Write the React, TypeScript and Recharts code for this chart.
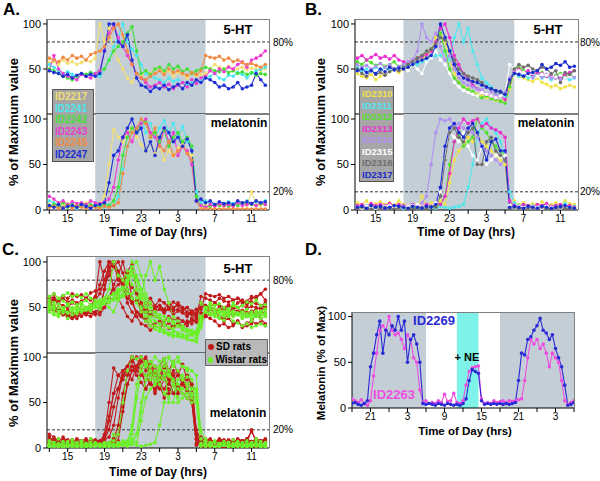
import React from 'react';
import { LineChart, Line, XAxis, YAxis, ReferenceArea, ReferenceLine } from 'recharts';

// samples every 30 min; A-C start at 13:00, D at 18:00 (hours counted from midnight of day 1)
const DAY_START = 13;
const D_START = 18;
const STEP = 0.5;

const DAY_TICKS = [13, 15, 17, 19, 21, 23, 25, 27, 29, 31, 33, 35];
const DAY_LABELS = [15, 19, 23, 27, 31, 35];
const D_TICKS = [18, 21, 24, 27, 30, 33, 36, 39, 42, 45, 48, 51, 54];
const D_LABELS = [21, 27, 33, 39, 45, 51];
const Y_TICKS = [0, 50, 100];
const Y_TICKS_TOP = [50, 100];

// ---- panel A : 5-HT ----
const ht2217 = [57,58,55,60,56,58,55,57,60,58, 62,100,80,95,70,60,50,40,35,45, 42,48,45,50,52,45,48,42,46,44, 40,45,42,44,45,50,55,52,50,53, 48,50,52,49,51,50,48,50];
const ht2241 = [55,52,48,45,47,44,42,45,43,46, 44,42,50,60,75,85,100,80,72,65, 55,45,42,40,38,35,40,36,38,35, 33,36,34,38,40,42,45,40,38,43, 42,46,44,40,45,48,50,52];
const ht2242 = [50,48,45,42,40,38,42,45,44,46, 45,48,50,60,70,75,80,90,97,70, 45,48,44,50,52,48,55,50,53,47, 50,45,48,50,52,50,48,47,50,46, 48,45,47,44,46,43,45,44];
const ht2243 = [48,65,50,45,42,40,38,44,42,40, 45,48,70,90,100,85,75,65,55,45, 40,35,30,32,35,30,33,28,32,35, 30,38,34,40,42,48,45,50,47,52, 50,55,58,52,60,62,65,70];
const ht2245 = [62,60,58,63,60,65,62,64,60,66, 68,70,75,85,95,100,88,70,55,45, 40,38,42,45,48,44,50,46,48,45, 43,46,44,48,65,63,62,64,60,62, 58,60,57,55,56,54,52,55];
const ht2247 = [48,46,45,42,44,40,43,45,42,44, 42,45,70,100,100,80,75,88,60,40, 32,30,25,30,28,32,27,30,33,28, 35,32,38,35,40,38,35,30,32,28, 30,35,28,30,32,45,38,32];

// ---- panel A : melatonin ----
const mel2217 = [6,4,8,5,7,4,6,5,8,6, 5,7,15,50,88,80,75,85,90,80, 72,65,75,62,70,55,65,60,68,72, 65,60,15,3,5,4,6,5,4,7, 5,6,8,5,20,6,5,7];
const mel2241 = [10,8,5,3,6,4,2,5,3,6, 4,5,3,6,5,15,45,70,85,90, 100,85,95,80,90,98,85,95,80,92, 75,70,20,8,10,7,6,8,5,9, 7,8,6,10,7,9,8,10];
const mel2242 = [4,6,5,8,3,6,4,7,5,6, 5,4,6,5,10,25,60,80,90,85, 95,97,80,85,75,88,70,80,85,75, 80,70,15,5,3,4,6,5,7,4, 6,5,7,8,6,5,7,6];
const mel2243 = [15,12,8,10,6,9,7,8,6,10, 8,7,9,12,25,55,80,85,75,90, 95,100,85,80,70,90,75,85,60,70, 65,50,10,5,3,6,4,7,5,6, 4,8,5,6,7,5,8,6];
const mel2245 = [3,4,2,3,5,2,4,3,2,4, 3,2,4,3,5,8,40,70,85,90, 100,95,80,90,70,65,75,60,65,70, 62,55,10,1,1,1,1,1,1,1, 1,1,1,1,1,1,1,1];
const mel2247 = [5,3,6,2,4,5,3,6,4,2, 5,6,8,30,60,65,80,90,100,85, 90,65,75,60,80,90,85,75,80,70, 78,65,10,12,8,10,6,9,7,8, 6,10,8,9,7,10,8,9];

// ---- panel B : 5-HT ----
const ht2310 = [45,42,40,44,38,42,45,47,48,46, 50,52,55,58,60,65,70,85,90,80, 60,45,35,30,28,25,22,20,18,17, 15,14,16,28,45,42,40,38,36,40, 35,33,30,32,28,30,32,30];
const ht2311 = [52,48,50,47,52,49,51,48,50,52, 55,53,56,55,58,60,62,65,65,70, 60,85,100,80,95,70,55,40,35,30, 25,22,20,35,45,42,44,40,42,44, 40,42,38,40,42,40,38,40];
const ht2312 = [58,55,60,57,54,56,53,55,58,52, 55,57,60,62,65,68,72,80,90,70, 50,40,35,30,27,25,20,18,20,17, 16,14,12,30,50,52,48,46,45,44, 46,42,44,43,45,42,44,43];
const ht2313 = [62,65,60,63,66,62,64,61,65,60, 58,56,60,62,64,66,70,80,95,100, 85,65,55,45,38,32,28,25,22,20, 18,20,16,35,48,50,46,48,44,46, 45,42,44,40,42,44,46,48];
const ht2314 = [55,52,54,50,53,56,52,55,50,53, 55,58,60,70,100,85,80,90,75,60, 65,50,40,35,32,30,28,27,30,25, 22,20,24,40,46,44,42,45,40,43, 41,44,40,42,38,40,42,41];
const ht2315 = [48,50,45,47,44,46,48,45,47,50, 52,48,55,50,45,58,62,70,60,55, 45,35,30,26,24,22,20,24,22,20, 18,20,22,55,50,48,46,44,45,42, 44,43,45,41,43,40,42,44];
const ht2316 = [50,45,42,48,44,46,43,47,50,48, 52,55,58,62,65,70,72,78,85,82, 70,60,50,45,42,40,38,35,30,28, 25,24,22,35,50,55,52,54,50,48, 52,50,45,48,35,46,44,48];
const ht2317 = [48,50,46,48,45,50,47,52,49,51, 50,52,55,58,60,62,65,75,100,85, 70,55,45,40,38,36,35,32,30,28, 26,25,22,38,45,44,42,45,46,48, 55,50,52,56,54,58,52,53];

// ---- panel B : melatonin ----
const mel2310 = [8,6,10,5,7,9,6,8,5,10, 6,4,5,3,15,4,8,5,10,6, 30,55,65,70,80,75,85,75,70,65, 60,55,50,5,10,6,8,5,7,6, 9,5,6,8,5,10,7,6];
const mel2311 = [4,3,5,2,4,3,5,2,3,4, 2,3,4,2,3,5,3,2,4,3, 2,3,4,6,25,50,80,95,100,90, 85,75,60,20,8,5,6,4,5,3, 4,6,3,5,4,7,3,4];
const mel2312 = [3,2,4,3,2,4,3,2,3,4, 3,2,3,4,2,3,5,4,6,15, 50,75,85,70,75,80,100,90,85,75, 70,65,60,3,2,3,2,4,3,2, 3,2,4,3,2,3,2,3];
const mel2313 = [5,6,4,7,5,6,5,7,4,6, 5,4,6,5,4,6,5,8,6,15, 40,75,90,100,95,98,100,92,95,90, 88,85,80,10,5,4,6,5,4,6, 5,7,4,5,6,4,5,3];
const mel2314 = [2,3,1,2,3,2,1,2,3,2, 4,3,5,4,8,15,50,85,100,98, 100,92,95,90,88,85,80,70,65,60, 55,50,55,3,2,3,1,2,3,2, 1,3,2,1,2,3,2,1];
const mel2315 = [3,2,4,3,2,3,4,5,3,2, 3,4,5,6,4,3,5,8,20,55, 85,80,75,85,70,60,55,70,50,55, 60,58,60,5,3,4,2,3,4,3, 2,4,3,2,3,4,3,2];
const mel2316 = [2,3,2,1,3,2,3,2,1,2, 3,2,1,2,3,2,4,3,15,55, 85,90,80,75,85,90,50,50,75,80, 65,60,55,2,3,2,1,2,3,2, 3,2,1,2,3,2,1,2];
const mel2317 = [3,4,2,5,3,4,2,3,5,4, 3,2,4,3,2,4,3,6,25,70, 90,95,85,80,90,95,85,70,55,75, 78,65,65,3,4,3,2,4,3,2, 4,3,2,3,4,5,3,2];

// ---- panel C : two more SD rats shown only in the pooled plot ----
const htSdX1 = [55,50,48,45,40,38,42,40,45,48, 60,75,90,100,95,85,70,60,55,58, 50,55,60,52,58,55,50,56,52,48, 50,45,40,62,60,58,55,60,57,56, 58,60,55,57,62,60,65,58];
const htSdX2 = [60,58,55,52,50,55,52,48,50,53, 58,65,80,95,100,90,75,55,45,40, 45,50,55,48,52,45,50,48,55,50, 45,42,38,55,52,48,45,40,35,38, 32,35,30,33,35,32,34,30];
const melSdX1 = [12,8,10,6,9,7,10,8,6,9, 7,8,12,35,60,80,85,90,100,85, 80,75,90,70,65,75,85,80,60,75, 70,65,5,8,6,9,7,10,8,6, 9,7,8,10,18,9,7,8];
const melSdX2 = [8,10,6,12,7,9,5,8,10,6, 9,7,10,20,45,65,85,90,95,100, 85,80,70,65,75,80,60,70,65,60, 55,50,3,6,8,5,7,4,9,6, 5,8,6,7,5,8,6,9];

// ---- panel D : melatonin over 36 h, NE given 11:00-14:30 ----
const d2269 = [5,6,4,3,5,8,45,60,80,95, 60,85,80,90,85,100,85,95,50,75, 80,70,50,5,4,5,4,3,5,4, 3,5,4,3,4,3,5,10,30,42, 40,38,8,4,5,4,5,4,5,4, 5,4,5,6,30,60,58,75,78,85, 90,98,85,82,75,80,65,55,45,25, 3,4,6];
const d2263 = [10,8,6,9,5,3,8,35,60,85, 90,85,100,85,80,82,75,65,80,75, 55,50,20,6,8,5,6,5,8,6, 15,7,8,16,6,5,8,25,40,44, 45,46,10,5,6,5,8,6,7,8, 6,8,7,8,9,10,30,55,75,70, 75,65,70,60,45,60,55,50,30,8, 4,6,8];

type S = { id: string; color: string; values: number[] };

const A_HT: S[] = [
  { id: 'ID2217', color: '#f3df74', values: ht2217 },
  { id: 'ID2241', color: '#4ce6ee', values: ht2241 },
  { id: 'ID2242', color: '#44e03a', values: ht2242 },
  { id: 'ID2243', color: '#ea3fd0', values: ht2243 },
  { id: 'ID2245', color: '#f08c45', values: ht2245 },
  { id: 'ID2247', color: '#1f2fd6', values: ht2247 },
];
const A_MEL: S[] = [
  { id: 'ID2217', color: '#f3df74', values: mel2217 },
  { id: 'ID2241', color: '#4ce6ee', values: mel2241 },
  { id: 'ID2242', color: '#44e03a', values: mel2242 },
  { id: 'ID2243', color: '#ea3fd0', values: mel2243 },
  { id: 'ID2245', color: '#f08c45', values: mel2245 },
  { id: 'ID2247', color: '#1f2fd6', values: mel2247 },
];
const B_HT: S[] = [
  { id: 'ID2310', color: '#f2e24a', values: ht2310 },
  { id: 'ID2311', color: '#4ee8f0', values: ht2311 },
  { id: 'ID2312', color: '#52e02c', values: ht2312 },
  { id: 'ID2313', color: '#ec2fcf', values: ht2313 },
  { id: 'ID2314', color: '#b391f2', values: ht2314 },
  { id: 'ID2315', color: '#ffffff', values: ht2315 },
  { id: 'ID2316', color: '#6e6e6e', values: ht2316 },
  { id: 'ID2317', color: '#1a2ccf', values: ht2317 },
];
const B_MEL: S[] = [
  { id: 'ID2310', color: '#f2e24a', values: mel2310 },
  { id: 'ID2311', color: '#4ee8f0', values: mel2311 },
  { id: 'ID2312', color: '#52e02c', values: mel2312 },
  { id: 'ID2313', color: '#ec2fcf', values: mel2313 },
  { id: 'ID2314', color: '#b391f2', values: mel2314 },
  { id: 'ID2315', color: '#ffffff', values: mel2315 },
  { id: 'ID2316', color: '#6e6e6e', values: mel2316 },
  { id: 'ID2317', color: '#1a2ccf', values: mel2317 },
];

const SD = '#c01a1a';
const WISTAR = '#6cf02a';
const C_HT: S[] = [
  ...[ht2217, ht2241, ht2242, ht2243, ht2245, ht2247, htSdX1, htSdX2].map((v, i) => ({ id: 'sd' + i, color: SD, values: v })),
  ...B_HT.map((s) => ({ ...s, color: WISTAR })),
];
const C_MEL: S[] = [
  ...[mel2217, mel2241, mel2242, mel2243, mel2245, mel2247, melSdX1, melSdX2].map((v, i) => ({ id: 'sd' + i, color: SD, values: v })),
  ...B_MEL.map((s) => ({ ...s, color: WISTAR })),
];
const D_MEL: S[] = [
  { id: 'ID2263', color: '#ee4ee0', values: d2263 },
  { id: 'ID2269', color: '#2a2ad6', values: d2269 },
];

const SHADE = '#c3ced6';
const NE = '#7ef2e8';
const FONT = "'Liberation Sans', Arial, Helvetica, sans-serif";

const pts = (values: number[], start: number) => values.map((v, i) => ({ t: start + STEP * i, v }));

type Shade = { x1: number; x2: number; fill: string };

function Strip(props: {
  x: number; y: number; w: number; h: number;
  series: S[]; start: number; domain: [number, number]; yMax: number; yTicks: number[];
  shades: Shade[]; refY?: number; refLabel?: string; labelGap?: number; axis?: boolean;
  ticks: number[]; labels: number[];
}) {
  const { x, y, w, h, series, start, domain, yMax, yTicks, shades, refY, refLabel, axis, ticks, labels } = props;
  const gap = props.labelGap ?? 4;
  const L = 40, T = 6, R = 32;
  const B = axis ? 22 : 1;
  return (
    <div style={{ position: 'absolute', left: x - L, top: y - T }}>
      <LineChart width={w + L + R} height={h + T + B} margin={{ top: T, right: R, left: L - 30, bottom: 0 }}>
        {shades.map((s, i) => (
          <ReferenceArea key={'sh' + i} x1={s.x1} x2={s.x2} fill={s.fill} fillOpacity={1} stroke="none" ifOverflow="hidden" />
        ))}
        <XAxis
          type="number"
          dataKey="t"
          domain={domain}
          allowDataOverflow
          ticks={ticks}
          interval={0}
          height={B}
          tick={axis ? { fontSize: 10, fill: '#000' } : false}
          tickLine={axis ? { stroke: '#000' } : false}
          tickSize={4}
          tickMargin={1}
          tickFormatter={(v: number) => (labels.includes(v) ? String(v % 24) : '')}
          axisLine={{ stroke: '#000' }}
        />
        <YAxis
          type="number"
          domain={[0, yMax]}
          allowDataOverflow
          ticks={yTicks}
          interval={0}
          width={30}
          tickSize={4}
          tick={{ fontSize: 11, fill: '#000' }}
          tickLine={{ stroke: '#000' }}
          axisLine={{ stroke: '#000' }}
        />
        {refY !== undefined && (
          <ReferenceLine
            y={refY}
            stroke="#333"
            strokeDasharray="3 2"
            label={{ value: refLabel, position: 'right', offset: gap, fill: '#000', fontSize: 10 }}
          />
        )}
        {series.map((s, i) => (
          <Line
            key={s.id + i}
            data={pts(s.values, start)}
            dataKey="v"
            stroke={s.color}
            strokeWidth={1.1}
            dot={{ r: 1.8, fill: s.color, stroke: 'none' }}
            activeDot={false}
            isAnimationActive={false}
          />
        ))}
      </LineChart>
    </div>
  );
}

const abs = (left: number, top: number, extra: React.CSSProperties = {}): React.CSSProperties => ({
  position: 'absolute', left, top, whiteSpace: 'nowrap', fontWeight: 'bold', ...extra,
});

function YTitle({ x, y, text, size }: { x: number; y: number; text: string; size: number }) {
  return <div style={abs(x, y, { fontSize: size, transform: 'translate(-50%,-50%) rotate(-90deg)' })}>{text}</div>;
}
function CText({ x, y, text, size, color = '#000' }: { x: number; y: number; text: string; size: number; color?: string }) {
  return <div style={abs(x, y, { fontSize: size, color, transform: 'translate(-50%,-50%)' })}>{text}</div>;
}
function Frame({ x, y, w, h }: { x: number; y: number; w: number; h: number }) {
  return <div style={{ position: 'absolute', left: x, top: y, width: w, height: h, borderTop: '1px solid #808080', borderRight: '1px solid #808080', boxSizing: 'border-box', pointerEvents: 'none' }} />;
}
function IdLegend({ x, y, w, items, size }: { x: number; y: number; w: number; items: S[]; size: number }) {
  return (
    <div style={{ position: 'absolute', left: x, top: y, width: w, background: '#a6a6a6', border: '1px solid #555', padding: '1px 0 1px 2px', fontSize: size, fontWeight: 'bold', lineHeight: '11.5px', overflow: 'hidden' }}>
      {items.map((s) => (
        <div key={s.id} style={{ color: s.color }}>{s.id}</div>
      ))}
    </div>
  );
}

function DayPanel({ ox, top, mid, bottom, w, ht, mel, htMax, melMax, labelGap }: {
  ox: number; top: number; mid: number; bottom: number; w: number;
  ht: S[]; mel: S[]; htMax: number; melMax: number; labelGap?: number;
}) {
  const night: Shade[] = [{ x1: 18, x2: 30, fill: SHADE }];
  return (
    <>
      <Strip x={ox} y={top} w={w} h={mid - top} series={ht} start={DAY_START} domain={[12.75, 36.9]}
        yMax={htMax} yTicks={Y_TICKS_TOP} shades={night} refY={80} refLabel="80%" labelGap={labelGap}
        ticks={DAY_TICKS} labels={DAY_LABELS} />
      <Strip x={ox} y={mid} w={w} h={bottom - mid} series={mel} start={DAY_START} domain={[12.75, 36.9]}
        yMax={melMax} yTicks={Y_TICKS} shades={night} refY={20} refLabel="20%" labelGap={labelGap} axis
        ticks={DAY_TICKS} labels={DAY_LABELS} />
      <Frame x={ox} y={top} w={w + 1} h={bottom - top} />
    </>
  );
}

export default function App() {
  return (
    <div style={{ position: 'absolute', left: 0, top: 0, width: 600, height: 481, background: '#fff', fontFamily: FONT, color: '#000', overflow: 'hidden' }}>
      {/* A */}
      <DayPanel ox={47} top={19} mid={114} bottom={210} w={222} ht={A_HT} mel={A_MEL} htMax={105.5} melMax={105.5} />
      <IdLegend x={52} y={89} w={38} items={A_HT} size={10} />
      <CText x={238} y={29} text="5-HT" size={13} />
      <CText x={239} y={123} text="melatonin" size={12} />
      <YTitle x={13} y={122} text="% of Maximum value" size={13} />
      <CText x={158} y={232} text="Time of Day (hrs)" size={12} />
      <div style={abs(3, 0, { fontSize: 17 })}>A.</div>

      {/* B */}
      <DayPanel ox={355} top={19} mid={114} bottom={210} w={223} ht={B_HT} mel={B_MEL} htMax={105.5} melMax={105.5} labelGap={2} />
      <IdLegend x={359} y={86} w={31} items={B_HT} size={9.5} />
      <CText x={548} y={29} text="5-HT" size={13} />
      <CText x={546} y={123} text="melatonin" size={12} />
      <YTitle x={320} y={122} text="% of Maximum value" size={13} />
      <CText x={466} y={232} text="Time of Day (hrs)" size={12} />
      <div style={abs(305, 0, { fontSize: 17 })}>B.</div>

      {/* C */}
      <DayPanel ox={47} top={256} mid={353} bottom={448} w={222} ht={C_HT} mel={C_MEL} htMax={106.5} melMax={104.5} />
      <div style={{ position: 'absolute', left: 205, top: 339, width: 63, height: 27, background: '#b9b9b9', border: '1px solid #666', fontSize: 10, fontWeight: 'bold', lineHeight: '12.5px', paddingTop: 1, boxSizing: 'border-box', whiteSpace: 'nowrap' }}>
        {[{ name: 'SD rats', color: SD }, { name: 'Wistar rats', color: WISTAR }].map((e) => (
          <div key={e.name} style={{ display: 'flex', alignItems: 'center' }}>
            <span style={{ display: 'inline-block', width: 6, height: 6, borderRadius: 3, background: e.color, margin: '0 2px 0 2px' }} />
            {e.name}
          </div>
        ))}
      </div>
      <CText x={238} y={268} text="5-HT" size={13} />
      <CText x={238} y={413} text="melatonin" size={12} />
      <YTitle x={13} y={363} text="% of Maximum value" size={13} />
      <CText x={158} y={472} text="Time of Day (hrs)" size={12} />
      <div style={abs(2, 240, { fontSize: 17 })}>C.</div>

      {/* D */}
      <Strip x={352} y={312} w={222} h={96} series={D_MEL} start={D_START} domain={[18, 54]} yMax={105}
        yTicks={Y_TICKS} axis ticks={D_TICKS} labels={D_LABELS}
        shades={[{ x1: 18, x2: 30, fill: SHADE }, { x1: 35, x2: 38.5, fill: NE }, { x1: 42, x2: 54, fill: SHADE }]} />
      <Frame x={352} y={312} w={223} h={96} />
      <CText x={434} y={320} text="ID2269" size={13} color="#2a2ad6" />
      <CText x={394} y={394} text="ID2263" size={13} color="#ee4ee0" />
      <CText x={467} y={357} text="+ NE" size={11} />
      <YTitle x={321} y={363} text="Melatonin (% of Max)" size={11.5} />
      <CText x={465} y={431} text="Time of Day (hrs)" size={11.5} />
      <div style={abs(305, 240, { fontSize: 17 })}>D.</div>
    </div>
  );
}
